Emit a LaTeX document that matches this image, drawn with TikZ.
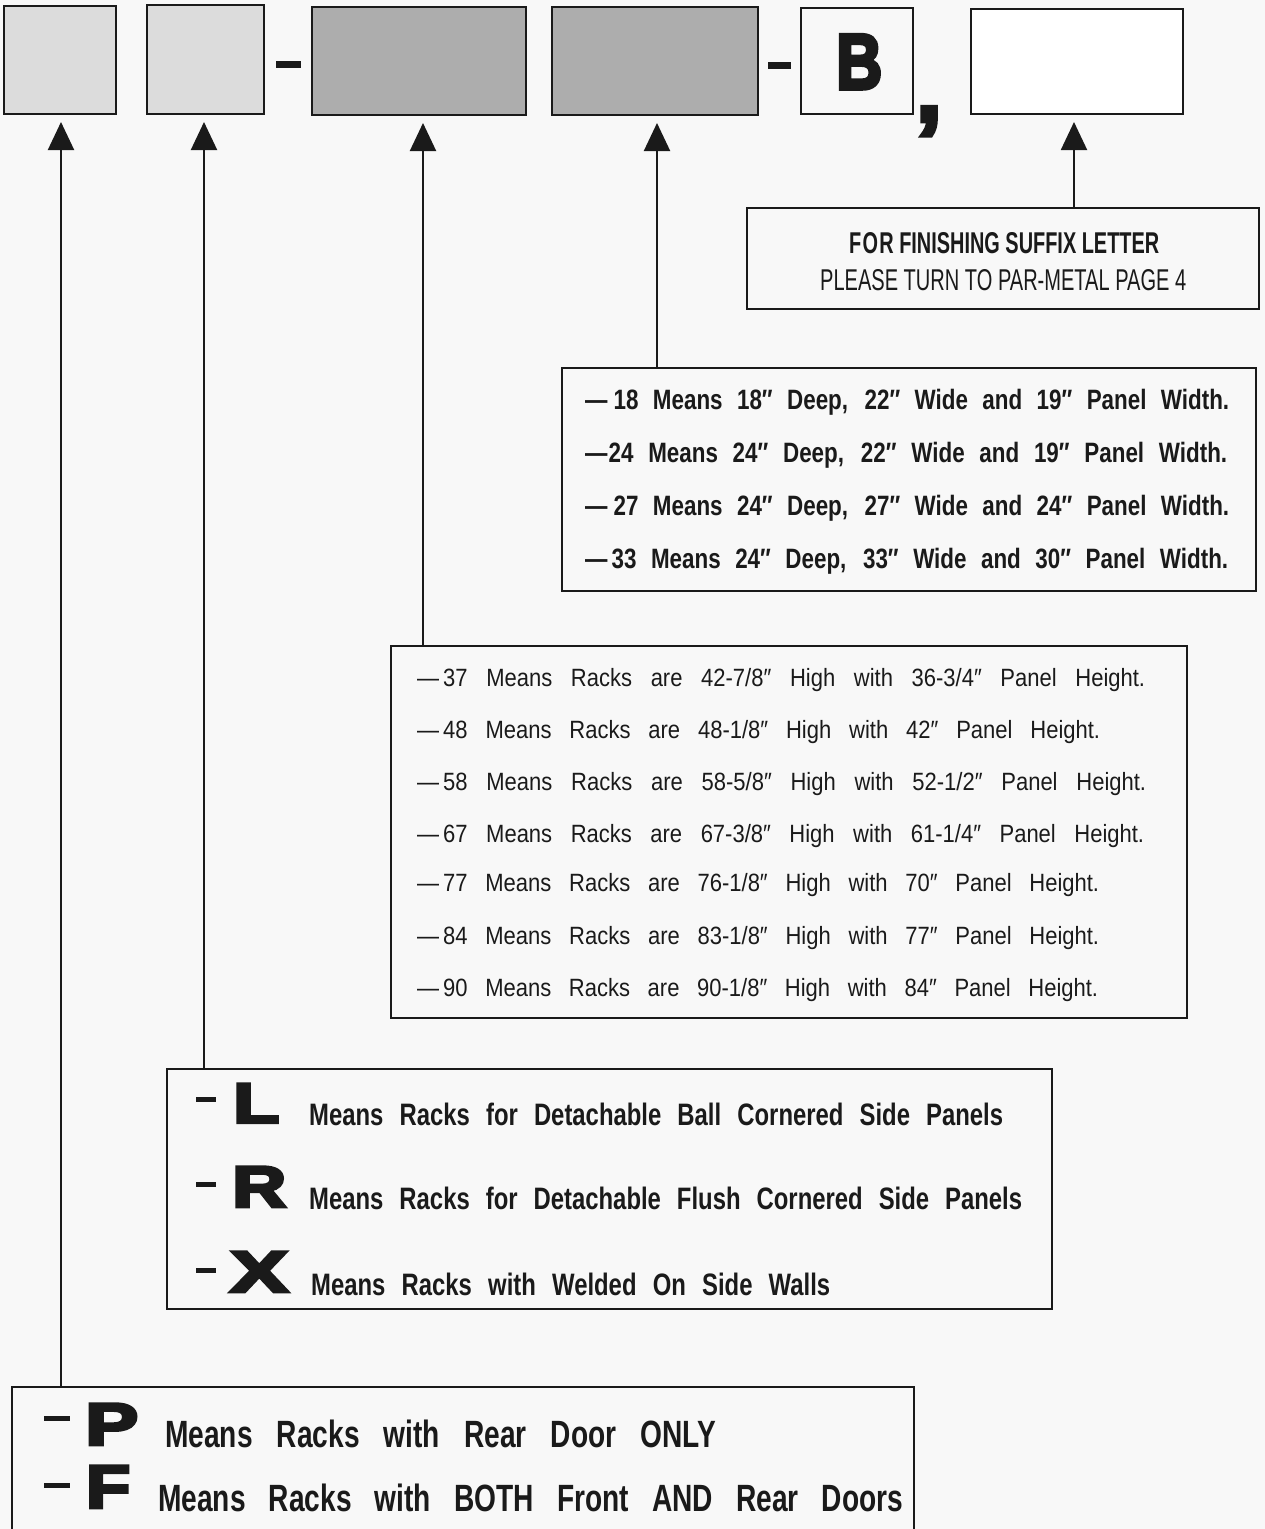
\documentclass[tikz,border=0pt]{standalone}
\usepackage{fontspec}
\usetikzlibrary{arrows.meta}
\setmainfont{Liberation Sans}
\newfontfamily\condB[FakeStretch=0.80]{Liberation Sans}
\newfontfamily\condL[FakeStretch=0.77]{Liberation Sans}
\newfontfamily\condP[FakeStretch=0.74]{Liberation Sans}
\newfontfamily\condR[FakeStretch=0.88]{Liberation Sans}
\newfontfamily\heavy[FakeBold=5, UprightFont=* Bold]{Liberation Sans}
\definecolor{bg}{HTML}{F8F8F8}
\definecolor{ink}{HTML}{1A1A1A}
\definecolor{lightbox}{HTML}{DCDCDC}
\definecolor{darkbox}{HTML}{ADADAD}
\newcommand\spread[2]{\makebox[#1][s]{#2}}
\begin{document}
\begin{tikzpicture}[x=1pt,y=-1pt,
  topbox/.style={draw=ink, line width=2.6pt, inner sep=0, rectangle},
  textbox/.style={draw=ink, line width=2.2pt, inner sep=0, rectangle},
  arr/.style={draw=ink, line width=2pt, -{Triangle[width=26pt,length=28pt]}, shorten >=8pt},
  rowtxt/.style={anchor=base west, inner sep=0, text=ink},
  rowB/.style={rowtxt, font=\condB\bfseries\fontsize{28}{28}\selectfont},
  rowR/.style={rowtxt, font=\condR\fontsize{25}{25}\selectfont},
  rowL/.style={rowtxt, font=\condL\bfseries\fontsize{31}{31}\selectfont},
  rowP/.style={rowtxt, font=\condP\bfseries\fontsize{38}{38}\selectfont},
  big/.style={anchor=south west, inner sep=0, text=ink},
  bar/.style={fill=ink}]
\fill[bg] (0,0) rectangle (1265,1529);
\useasboundingbox (0,0) rectangle (1265,1529);

% top row of boxes
\node[topbox, fill=lightbox, minimum width=112pt, minimum height=108pt] (b1) at (60,60) {};
\node[topbox, fill=lightbox, minimum width=117pt, minimum height=109pt] (b2) at (205.5,59.5) {};
\node[topbox, fill=darkbox, minimum width=214pt, minimum height=108pt] (b3) at (419,61) {};
\node[topbox, fill=darkbox, minimum width=206pt, minimum height=108pt] (b4) at (655,61) {};
\node[topbox, fill=bg, minimum width=112pt, minimum height=106pt] (b5) at (857,61) {};
\node[topbox, fill=white, minimum width=212pt, minimum height=105pt] (b6) at (1077,61.5) {};
\node[big] (bletter) at (836,89) {\resizebox{46pt}{54pt}{\heavy B}};
\fill[bar] (276,61) rectangle (301,68);
\fill[bar] (768,62) rectangle (791,69);
\node[anchor=base west, inner sep=0, text=ink, font=\heavy\fontsize{92}{92}\selectfont] (comma) at (916,121) {,};

% arrow targets
\coordinate (t1) at (61,114);
\coordinate (t2) at (204,114);
\coordinate (t3) at (423,115);
\coordinate (t4) at (657,115);
\coordinate (t5) at (1074,114);

% finishing box
\node[textbox, minimum width=512pt, minimum height=101pt] (fin) at (1003,258.5) {};
\node[big] (fin1) at (849,254) {\resizebox{310pt}{21pt}{\condB\bfseries F\kern0.5pt O\kern0.5pt R FINISHING SUFFIX LETTER}};
\node[big] (fin2) at (820,291) {\resizebox{366pt}{21pt}{\condR PLEASE TURN TO PAR-METAL PAGE 4}};

% depth / width box
\node[textbox, minimum width=694pt, minimum height=223pt] (dbox) at (909,479.5) {};
\node[rowB] (d18) at (585,409) {\spread{644pt}{—\hspace{6pt}18 Means 18″ Deep, 22″ Wide and 19″ Panel Width.}};
\node[rowB] (d24) at (585,462) {\spread{642pt}{—\hspace{1pt}24 Means 24″ Deep, 22″ Wide and 19″ Panel Width.}};
\node[rowB] (d27) at (585,515) {\spread{644pt}{—\hspace{6pt}27 Means 24″ Deep, 27″ Wide and 24″ Panel Width.}};
\node[rowB] (d33) at (585,568) {\spread{643pt}{—\hspace{4pt}33 Means 24″ Deep, 33″ Wide and 30″ Panel Width.}};

% height box
\node[textbox, minimum width=796pt, minimum height=372pt] (hbox) at (789,832) {};
\node[rowR] (h37) at (417,686) {\spread{728pt}{—\hspace{4pt}37 Means Racks are 42-7/8″ High with 36-3/4″ Panel Height.}};
\node[rowR] (h48) at (417,738) {\spread{683pt}{—\hspace{4pt}48 Means Racks are 48-1/8″ High with 42″ Panel Height.}};
\node[rowR] (h58) at (417,790) {\spread{729pt}{—\hspace{4pt}58 Means Racks are 58-5/8″ High with 52-1/2″ Panel Height.}};
\node[rowR] (h67) at (417,842) {\spread{727pt}{—\hspace{4pt}67 Means Racks are 67-3/8″ High with 61-1/4″ Panel Height.}};
\node[rowR] (h77) at (417,891) {\spread{682pt}{—\hspace{4pt}77 Means Racks are 76-1/8″ High with 70″ Panel Height.}};
\node[rowR] (h84) at (417,944) {\spread{682pt}{—\hspace{4pt}84 Means Racks are 83-1/8″ High with 77″ Panel Height.}};
\node[rowR] (h90) at (417,996) {\spread{681pt}{—\hspace{4pt}90 Means Racks are 90-1/8″ High with 84″ Panel Height.}};

% side panel box
\node[textbox, minimum width=885pt, minimum height=240pt] (lrx) at (609.5,1189) {};
\fill[bar] (196,1097) rectangle (216,1102);
\fill[bar] (196,1182) rectangle (216,1187);
\fill[bar] (196,1268) rectangle (216,1273);
\node[big] (lL) at (233,1123) {\resizebox{46pt}{39pt}{\heavy L}};
\node[big] (lR) at (232,1207) {\resizebox{54pt}{40pt}{\heavy R}};
\node[big] (lX) at (230,1292) {\resizebox{58pt}{40pt}{\heavy X}};
\node[rowL] (tL) at (309,1125) {\spread{694pt}{Means Racks for Detachable Ball Cornered Side Panels}};
\node[rowL] (tR) at (309,1209) {\spread{713pt}{Means Racks for Detachable Flush Cornered Side Panels}};
\node[rowL] (tX) at (311,1295) {\spread{519pt}{Means Racks with Welded On Side Walls}};

% door box (bottom edge beyond the picture)
\node[minimum width=902pt, minimum height=142pt, inner sep=0] (pf) at (463,1458) {};
\draw[ink, line width=2.2pt] (pf.south west) -- (pf.north west) -- (pf.north east) -- (pf.south east);
\fill[bar] (44,1416) rectangle (70,1421);
\fill[bar] (44,1483) rectangle (70,1488);
\node[big] (lP) at (85,1445) {\resizebox{53pt}{41pt}{\heavy P}};
\node[big] (lF) at (86,1508) {\resizebox{44pt}{42pt}{\heavy F}};
\node[rowP] (tP) at (165,1447) {\spread{551pt}{Means Racks with Rear Door ONLY}};
\node[rowP] (tF) at (158,1511) {\spread{745pt}{Means Racks with BOTH Front AND Rear Doors}};

% connectors
\draw[arr] (pf.north -| t1) -- (t1);
\draw[arr] (lrx.north -| t2) -- (t2);
\draw[arr] (hbox.north -| t3) -- (t3);
\draw[arr] (dbox.north -| t4) -- (t4);
\draw[arr] (fin.north -| t5) -- (t5);
\end{tikzpicture}
\end{document}
